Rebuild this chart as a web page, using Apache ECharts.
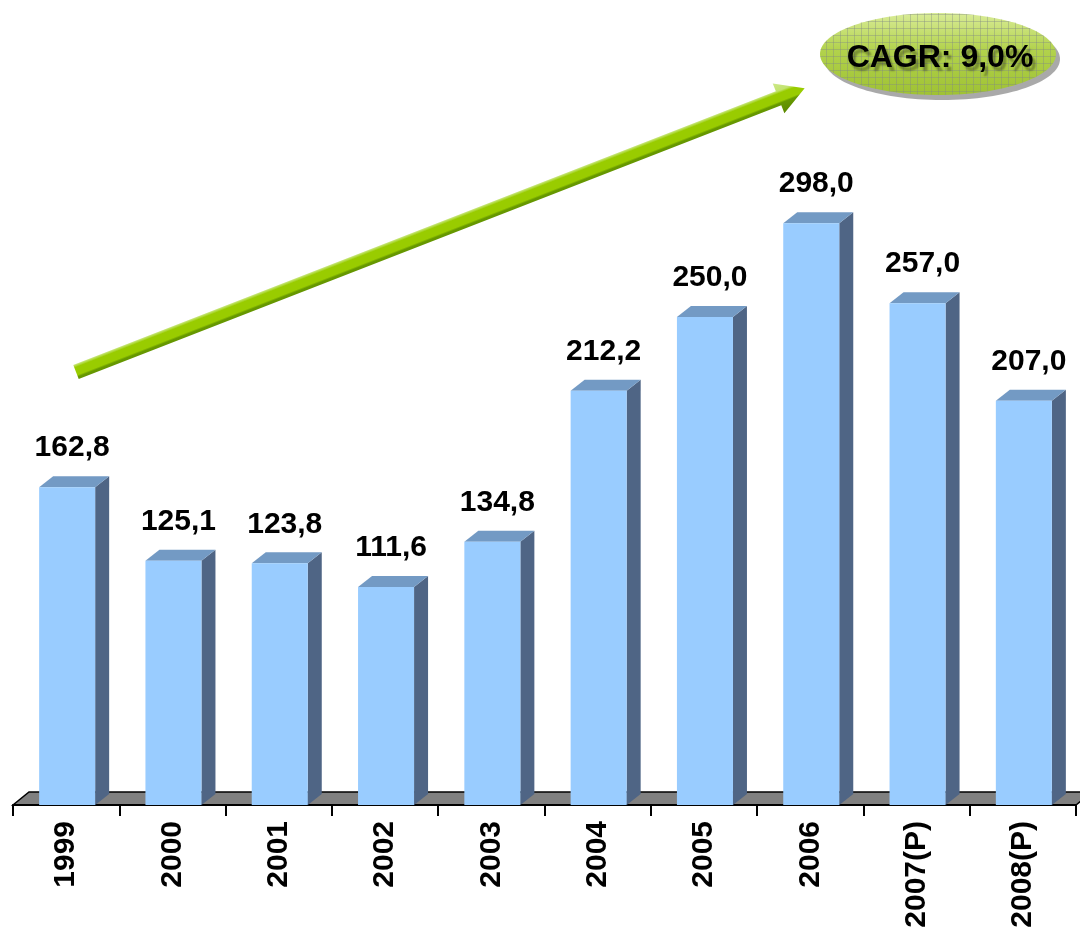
<!DOCTYPE html>
<html>
<head>
<meta charset="utf-8">
<script src="https://cdn.jsdelivr.net/npm/echarts@6/dist/echarts.min.js"></script>
<style>
  html, body { margin: 0; padding: 0; background: #fff; }
  #chart { width: 1080px; height: 933px; }
</style>
</head>
<body>
<div id="chart"></div>
<script>
// anos e valores (P = projeção)
var years = ['1999', '2000', '2001', '2002', '2003', '2004', '2005', '2006', '2007(P)', '2008(P)'];
var values = [162.8, 125.1, 123.8, 111.6, 134.8, 212.2, 250.0, 298.0, 257.0, 207.0];
var cagrText = 'CAGR: 9,0%';

var W = 1080, H = 933;
var GRID = { left: 13, right: 4, top: 24, bottom: 128 };
var DX = 14, DY = 11;       // profundidade 3D das barras
var FONT = '"Liberation Sans", Arial, sans-serif';

function fmt(v) {
  return v.toFixed(1).replace('.', ',');
}

function renderBar(params, api) {
  var base = api.coord([api.value(0), 0]);
  var top = api.coord([api.value(0), api.value(1)]);
  var w = api.size([1, 0])[0] * 0.527;
  var x0 = base[0] - w / 2 + 1, x1 = x0 + w;
  var yb = base[1], yt = top[1];
  return {
    type: 'group',
    children: [
      { type: 'polygon', shape: { points: [[x1, yb], [x1 + DX, yb - DY], [x1 + DX, yt - DY], [x1, yt]] },
        style: { fill: '#4f6585' } },
      { type: 'polygon', shape: { points: [[x0, yt], [x0 + DX, yt - DY], [x1 + DX, yt - DY], [x1, yt]] },
        style: { fill: '#739ac4' } },
      { type: 'rect', shape: { x: x0, y: yt, width: w, height: yb - yt },
        style: { fill: '#99ccff' } },
      { type: 'text', x: base[0] + 6, y: yt - 39,
        style: { text: fmt(api.value(1)), font: 'bold 30px ' + FONT, fill: '#000',
                 align: 'center', verticalAlign: 'middle' } }
    ]
  };
}

// padrão quadriculado do balão CAGR
function gridPattern() {
  var c = document.createElement('canvas');
  c.width = 7; c.height = 7;
  var ctx = c.getContext('2d');
  ctx.strokeStyle = 'rgba(130,140,130,0.4)';
  ctx.lineWidth = 1;
  ctx.beginPath();
  ctx.moveTo(0, 0.5); ctx.lineTo(7, 0.5);
  ctx.moveTo(0.5, 0); ctx.lineTo(0.5, 7);
  ctx.stroke();
  return c;
}

var floorY = H - GRID.bottom;
var floorL = GRID.left, floorR = W - GRID.right;
var arrowLen = 782;

var chart = echarts.init(document.getElementById('chart'), null, { renderer: 'canvas' });
chart.setOption({
  animation: false,
  backgroundColor: '#fff',
  grid: { left: GRID.left, right: GRID.right, top: GRID.top, bottom: GRID.bottom },
  xAxis: {
    type: 'category',
    data: years,
    boundaryGap: true,
    axisLine: { show: true, lineStyle: { color: '#000', width: 2 } },
    axisTick: { show: true, length: 11, lineStyle: { color: '#000', width: 2 } },
    axisLabel: { rotate: 90, margin: 16, color: '#000', fontWeight: 'bold', fontSize: 30, fontFamily: FONT }
  },
  yAxis: {
    type: 'value', min: 0, max: 400,
    show: false, splitLine: { show: false }
  },
  graphic: [
    // piso
    { type: 'polygon', z: 0,
      shape: { points: [[floorL, floorY], [floorR, floorY], [floorR + 16, floorY - 13], [floorL + 16, floorY - 13]] },
      style: { fill: '#808080', stroke: '#000', lineWidth: 1.5 } },
    // seta
    { type: 'group', x: 76, y: 372, rotation: Math.atan2(284, 729), z: 10,
      children: [
        { type: 'polygon',
          shape: { points: [[0, -7.5], [arrowLen - 28, -7.5], [arrowLen - 28, -16], [arrowLen, 0],
                            [arrowLen - 28, 16], [arrowLen - 28, 7.5], [0, 7.5]] },
          style: { fill: new echarts.graphic.LinearGradient(0, 0, 0, 1, [
            { offset: 0, color: '#cde88a' },
            { offset: 0.28, color: '#c2e36e' },
            { offset: 0.36, color: '#99cc00' },
            { offset: 0.6, color: '#99cc00' },
            { offset: 0.66, color: '#679900' },
            { offset: 1, color: '#5a8800' }
          ]) } }
      ] },
    // balão CAGR
    { type: 'ellipse', z: 10, shape: { cx: 942, cy: 59, rx: 118, ry: 41 },
      style: { fill: 'rgba(140,140,140,0.75)' } },
    { type: 'ellipse', z: 11, shape: { cx: 938, cy: 54, rx: 118, ry: 41 },
      style: { fill: new echarts.graphic.LinearGradient(0, 0, 0, 1, [
        { offset: 0, color: '#d9ec97' },
        { offset: 0.45, color: '#b2d24c' },
        { offset: 1, color: '#9fc233' }
      ]) } },
    { type: 'ellipse', z: 12, shape: { cx: 938, cy: 54, rx: 118, ry: 41 },
      style: { fill: { image: gridPattern(), repeat: 'repeat' } } },
    { type: 'text', z: 13, x: 940, y: 58,
      style: { text: cagrText, font: 'bold 32px ' + FONT, fill: '#000', align: 'center', verticalAlign: 'middle',
               textShadowColor: 'rgba(0,0,0,0.3)', textShadowOffsetX: 3, textShadowOffsetY: 4, textShadowBlur: 2 } }
  ],
  series: [{
    type: 'custom',
    renderItem: renderBar,
    encode: { x: 0, y: 1 },
    data: values.map(function (v, i) { return [i, v]; }),
    z: 2
  }]
});
</script>
</body>
</html>
